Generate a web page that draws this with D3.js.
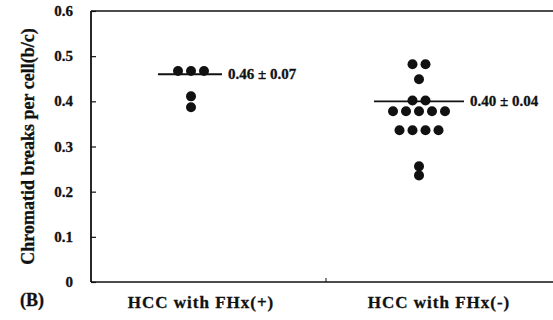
<!DOCTYPE html>
<html>
<head>
<meta charset="utf-8">
<script src="https://cdn.jsdelivr.net/npm/d3@7"></script>
<style>
  body { margin: 0; background: #fff; }
  svg { display: block; }
  text { font-family: "Liberation Serif", "DejaVu Serif", serif; font-weight: bold; fill: #111;
         stroke: #111; stroke-width: 0.3px; }
</style>
</head>
<body>
<svg id="chart" width="553" height="320"></svg>
<script>
// groups and the chromatid break values of each patient
const groups = ["HCC  with FHx(+)", "HCC  with FHx(-)"];
const fhxPos = [0.467, 0.467, 0.467, 0.411, 0.387];
const fhxNeg = [0.482, 0.482, 0.449, 0.402, 0.402,
                0.378, 0.378, 0.378, 0.378, 0.378,
                0.336, 0.336, 0.336, 0.336, 0.256, 0.236];
const means = [0.46, 0.40];
const sds = [0.07, 0.04];
const yTicks = [0, 0.1, 0.2, 0.3, 0.4, 0.5, 0.6];

const svg = d3.select("#chart");
const plotL = 91, plotR = 553, plotT = 11, plotB = 282;

const y = d3.scaleLinear().domain([0, 0.6]).range([plotB, plotT]);
const x = d3.scalePoint().domain(groups).range([191, 419]);
const dotStep = 13;

// frame: left axis, top and bottom lines
svg.append("line").attr("x1", plotL).attr("x2", plotL).attr("y1", plotT).attr("y2", plotB)
  .attr("stroke", "#111").attr("stroke-width", 1.8);
svg.append("line").attr("x1", plotL).attr("x2", plotR).attr("y1", plotT).attr("y2", plotT)
  .attr("stroke", "#111").attr("stroke-width", 1.5);
svg.append("line").attr("x1", plotL).attr("x2", plotR).attr("y1", plotB).attr("y2", plotB)
  .attr("stroke", "#111").attr("stroke-width", 1.5);
// small middle tick on the base line
svg.append("line").attr("x1", 326).attr("x2", 326).attr("y1", plotB).attr("y2", plotB - 4)
  .attr("stroke", "#111").attr("stroke-width", 1);

// y axis ticks (inward) and labels
const yAxis = d3.axisRight(y).tickValues(yTicks).tickSize(5).tickFormat("");
svg.append("g").attr("transform", `translate(${plotL},0)`).call(yAxis)
  .call(g => g.select(".domain").remove())
  .call(g => g.selectAll("line").attr("stroke", "#111").attr("stroke-width", 1.2));

svg.append("g").selectAll("text").data(yTicks).join("text")
  .attr("x", 73).attr("y", d => y(d) + 5)
  .attr("text-anchor", "end").style("font-size", "15px")
  .text(d => d === 0 ? "0" : d.toFixed(1));

svg.append("text")
  .attr("transform", `translate(34,${(plotT + plotB) / 2}) rotate(-90)`)
  .attr("text-anchor", "middle").style("font-size", "18px")
  .text("Chromatid breaks per cell(b/c)");

// dots: identical values are spread side by side
[fhxPos, fhxNeg].forEach((vals, gi) => {
  const counts = d3.rollup(vals, v => v.length, d => d);
  const seen = new Map();
  const pts = vals.map(v => {
    const k = seen.get(v) || 0;
    seen.set(v, k + 1);
    const n = counts.get(v);
    return { v, off: (k - (n - 1) / 2) * dotStep };
  });
  svg.append("g").selectAll("circle").data(pts).join("circle")
    .attr("cx", d => x(groups[gi]) + d.off)
    .attr("cy", d => y(d.v))
    .attr("r", 5).attr("fill", "#111");
});

// mean lines and labels
const meanHalf = [31, 45];
means.forEach((m, i) => {
  const cx = x(groups[i]);
  svg.append("line")
    .attr("x1", cx - meanHalf[i] + (i === 0 ? -2 : 0)).attr("x2", cx + meanHalf[i])
    .attr("y1", y(m)).attr("y2", y(m))
    .attr("stroke", "#111").attr("stroke-width", 1.8);
  svg.append("text")
    .attr("x", cx + meanHalf[i] + 6).attr("y", y(m) + 5)
    .style("font-size", "15px")
    .text(m.toFixed(2) + " \u00b1 " + sds[i].toFixed(2));
});

// category labels
svg.append("g").selectAll("text").data(groups).join("text")
  .attr("x", (d, i) => x(d) + (i === 0 ? 10 : 20))
  .attr("y", 308).attr("text-anchor", "middle")
  .style("font-size", "17px").style("letter-spacing", "1px")
  .text(d => d);

svg.append("text").attr("x", 20).attr("y", 306).style("font-size", "18px").text("(B)");
</script>
</body>
</html>
